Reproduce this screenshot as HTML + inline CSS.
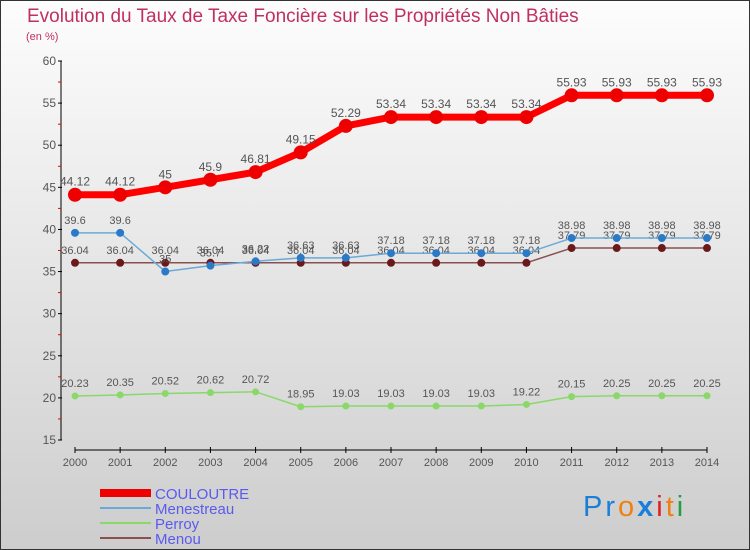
<!DOCTYPE html>
<html><head><meta charset="utf-8"><style>
body{margin:0;width:750px;height:550px;overflow:hidden}
svg{display:block;font-family:"Liberation Sans",sans-serif}
</style></head><body>
<svg id="c" width="750" height="550" viewBox="0 0 750 550">
<defs><linearGradient id="bg" x1="0" y1="0" x2="0" y2="1"><stop offset="0" stop-color="#fdfdfd"/><stop offset="1" stop-color="#cdcdcd"/></linearGradient></defs>
<rect x="0.5" y="0.5" width="749" height="549" fill="url(#bg)" stroke="#333"/>
<text x="27" y="22" font-size="19" fill="#c0305f">Evolution du Taux de Taxe Foncière sur les Propriétés Non Bâties</text>
<text x="26" y="40" font-size="11" fill="#c0305f">(en %)</text>
<g id="axes"></g><g id="series"></g>
<g>
<rect x="100" y="489" width="51" height="8" fill="#e00"/>
<text x="155" y="499" font-size="15" fill="#5a5af0">COULOUTRE</text>
<rect x="100" y="507" width="51" height="2" fill="#6aaad8"/>
<text x="155" y="514" font-size="15" fill="#5a5af0">Menestreau</text>
<rect x="100" y="522" width="51" height="2" fill="#8ad86a"/>
<text x="155" y="529" font-size="15" fill="#5a5af0">Perroy</text>
<rect x="100" y="537" width="51" height="2" fill="#8a5050"/>
<text x="155" y="544" font-size="15" fill="#5a5af0">Menou</text>
</g>
<text x="583" y="516" font-size="29" letter-spacing="3" font-family="Liberation Sans,sans-serif"><tspan fill="#1a7fd8">Pr</tspan><tspan fill="#f08010">o</tspan><tspan fill="#1a7fd8" font-weight="bold">x</tspan><tspan fill="#e02020">i</tspan><tspan fill="#f08010">t</tspan><tspan fill="#20a040">i</tspan></text>
</svg>
<script>
const years=[2000,2001,2002,2003,2004,2005,2006,2007,2008,2009,2010,2011,2012,2013,2014];
const couloutre=[44.12,44.12,45,45.9,46.81,49.15,52.29,53.34,53.34,53.34,53.34,55.93,55.93,55.93,55.93];
const menestreau=[39.6,39.6,35,35.7,36.22,36.63,36.63,37.18,37.18,37.18,37.18,38.98,38.98,38.98,38.98];
const perroy=[20.23,20.35,20.52,20.62,20.72,18.95,19.03,19.03,19.03,19.03,19.22,20.15,20.25,20.25,20.25];
const menou=[36.04,36.04,36.04,36.04,36.04,36.04,36.04,36.04,36.04,36.04,36.04,37.79,37.79,37.79,37.79];
const yTicks=[15,20,25,30,35,40,45,50,55,60];
const NS="http://www.w3.org/2000/svg";
const X=i=>75+i*(632/14);
const Y=v=>61+(60-v)*(379/45);
function mk(t,a,p){const e=document.createElementNS(NS,t);for(const k in a)e.setAttribute(k,a[k]);p.appendChild(e);return e;}
const ax=document.getElementById('axes');
const yl=mk('line',{x1:61,y1:61,x2:61,y2:440,stroke:'#000'},ax);


yTicks.forEach(v=>{
 mk('line',{x1:58,y1:Y(v),x2:62,y2:Y(v),stroke:'#000'},ax);
 if(v<60)mk('line',{x1:58,y1:Y(v+2.5),x2:61,y2:Y(v+2.5),stroke:'#e00'},ax);
 const t=mk('text',{x:56,y:Y(v)+4,'font-size':12,'text-anchor':'end',fill:'#555'},ax);t.textContent=v;
 
 
});
const xl=mk('line',{x1:75,y1:450,x2:707,y2:450,stroke:'#000'},ax);


years.forEach((y,i)=>{
 mk('line',{x1:X(i),y1:447,x2:X(i),y2:453,stroke:'#000'},ax);
 const t=mk('text',{x:X(i),y:466,'font-size':11,'text-anchor':'middle',fill:'#555'},ax);t.textContent=y;
 
 
});
const sg=document.getElementById('series');
function series(d,name,col,w,r,dot,fs){
 const g=mk('g',{},sg);
 
 
 mk('polyline',{points:d.map((v,i)=>X(i)+','+Y(v)).join(' '),fill:'none',stroke:col,'stroke-width':w,'stroke-linejoin':'round'},g);
 d.forEach((v,i)=>{
  const c=mk('circle',{cx:X(i),cy:Y(v),r:r,fill:dot},g);
  
  
  const t=mk('text',{x:X(i),y:Y(v)-9,'font-size':fs,'text-anchor':'middle',fill:'#555'},g);
  t.textContent=v;
  
  
 });
}
series(perroy,'perroy','#8ad86a',1.5,3.5,'#8ad86a',11);
series(menou,'menou','#8a5050',1.5,4,'#6a1a1a',11);
series(menestreau,'menestreau','#6aaad8',1.5,4,'#2a7ac8',11);
series(couloutre,'couloutre','#f00',7,7,'#e00',12);
</script>
</body></html>
